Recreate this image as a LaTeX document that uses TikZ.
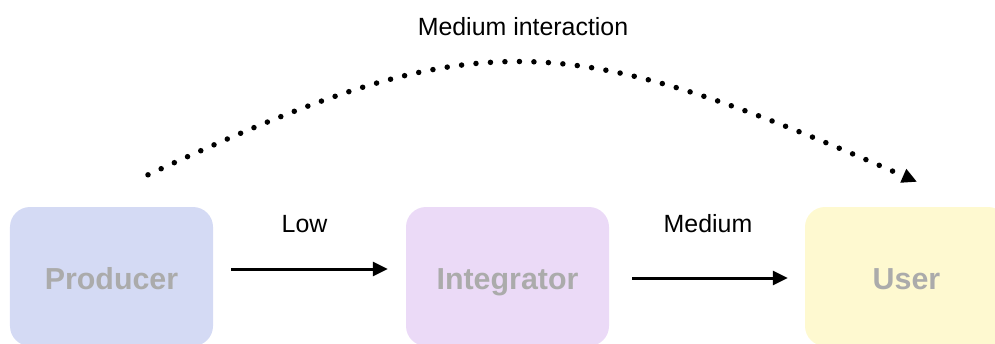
\documentclass[tikz,border=0pt]{standalone}
\usepackage{fontspec}
\setmainfont{Liberation Sans}
\usetikzlibrary{arrows.meta}
\definecolor{prodBlue}{HTML}{D4DAF4}
\definecolor{intPurple}{HTML}{EBDAF7}
\definecolor{userYellow}{HTML}{FEF9D0}
\definecolor{boxText}{HTML}{ABABAB}
\begin{document}
\begin{tikzpicture}
                [x=1bp, y=-1bp,
        role/.style={rectangle, rounded corners=20bp, minimum width=203bp, minimum height=139bp, inner sep=0pt, text height=28bp, text depth=3bp, text=boxText, font=\bfseries\fontsize{30.5}{36}\selectfont},
        flow/.style={line width=3bp, -{Triangle[length=15bp, width=14bp]}},
        lbl/.style={font=\fontsize{25}{30}\selectfont}]
                \useasboundingbox (0,0) rectangle (995,343);
                \clip (0,0) rectangle (995,343);
                \node[role, fill=prodBlue] (P) at (111.5,276.5) {Producer};
                \node[role, fill=intPurple] (I) at (507.5,276.5) {Integrator};
                \node[role, fill=userYellow] (U) at (906.5,276.5) {User};
                
                \draw[flow, shorten <=18bp, shorten >=18bp] ([yshift=7.5bp]P.east) -- ([yshift=7.5bp]I.west) node[lbl, midway, yshift=45bp, xshift=-5bp] (low) {Low};
                \draw[flow, shorten <=23bp, shorten >=17bp] ([yshift=-1.5bp]I.east) -- ([yshift=-1.5bp]U.west) node[lbl, midway, yshift=54bp, xshift=1bp] (med) {Medium};
                
                \coordinate (arcStart) at ([xshift=36.5bp, yshift=32bp]P.north);
                \coordinate (arcEnd) at ([xshift=10.5bp, yshift=25bp]U.north);
                \draw[line width=5.5bp, line cap=round, dash pattern=on 0bp off 14.5bp, -{Triangle[length=15bp, width=14bp]}]
                    (arcStart) .. controls (475,23) and (557,24) .. (arcEnd);
                \node[lbl] (medInt) at (523,27) {Medium interaction};
            \end{tikzpicture}
\end{document}
